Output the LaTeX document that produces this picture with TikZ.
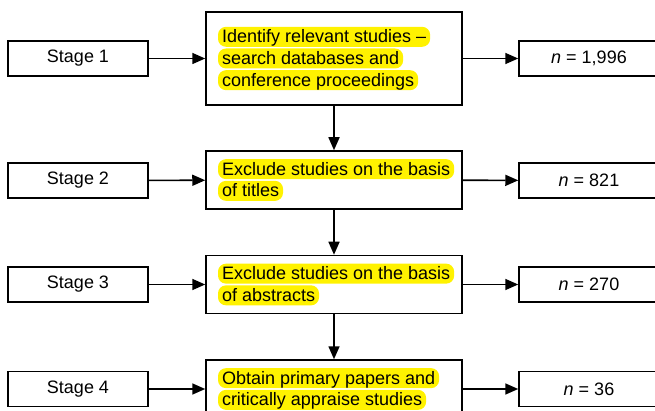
\documentclass[tikz,border=0pt]{standalone}
\usepackage{fontspec}
\setmainfont{Liberation Sans}
\usetikzlibrary{arrows.meta}

\tikzset{
  stagebox/.style={draw, line width=1.5pt, minimum width=140pt, minimum height=35pt, inner sep=0pt},
  taskbox/.style={draw, line width=1.5pt, minimum width=256pt, minimum height=58pt, inner xsep=12pt, inner ysep=0pt, text width=232pt, align=left},
  countbox/.style={draw, line width=1.5pt, minimum width=140pt, minimum height=35pt, inner sep=0pt},
  hlbox/.style={draw=none, fill=yellow, rounded corners=8pt, minimum width=0pt, minimum height=0pt, text width={}, align=center,
    inner xsep=4pt, inner ysep=1.5pt, text height=14.5pt, text depth=2.5pt},
  link/.style={line width=1.6pt, -{Triangle[length=13pt,width=11pt]}}
}
\newcommand{\hlt}[1]{\tikz[baseline=(h.base)]\node[hlbox](h){#1};}
\hfuzz=30pt \hbadness=10000

\begin{document}
\begin{tikzpicture}[x=1pt, y=-1pt, font=\fontsize{18}{21.7}\selectfont]
    \clip (0,0) rectangle (655,411);

    \node[stagebox] (s1) at (78,58.5) {Stage 1};
    \node[stagebox] (s2) at (78,180.5) {Stage 2};
    \node[stagebox] (s3) at (78,284.5) {Stage 3};
    \node[stagebox] (s4) at (78,389) {Stage 4};

    \node[taskbox, minimum height=93pt] (m1) at (334,58.5) {\hlt{Identify relevant studies --}\\\hlt{search databases and}\\\hlt{conference proceedings}};
    \node[taskbox] (m2) at (334,180) {\hlt{Exclude studies on the basis}\\\hlt{of titles}};
    \node[taskbox] (m3) at (334,284.5) {\hlt{Exclude studies on the basis}\\\hlt{of abstracts}};
    \node[taskbox] (m4) at (334,389) {\hlt{Obtain primary papers and}\\\hlt{critically appraise studies}};

    \node[countbox] (n1) at (589,58.5) {\textit{n} = 1,996};
    \node[countbox] (n2) at (589,180.5) {\textit{n} = 821};
    \node[countbox] (n3) at (589,284.5) {\textit{n} = 270};
    \node[countbox] (n4) at (589,389) {\textit{n} = 36};

    \draw[link] (s1) -- (m1);
    \draw[link] (s2) -- (m2);
    \draw[link] (s3) -- (m3);
    \draw[link] (s4) -- (m4);
    \draw[link] (m1) -- (n1);
    \draw[link] (m2) -- (n2);
    \draw[link] (m3) -- (n3);
    \draw[link] (m4) -- (n4);
    \draw[link] (m1) -- (m2);
    \draw[link] (m2) -- (m3);
    \draw[link] (m3) -- (m4);
\end{tikzpicture}
\end{document}
